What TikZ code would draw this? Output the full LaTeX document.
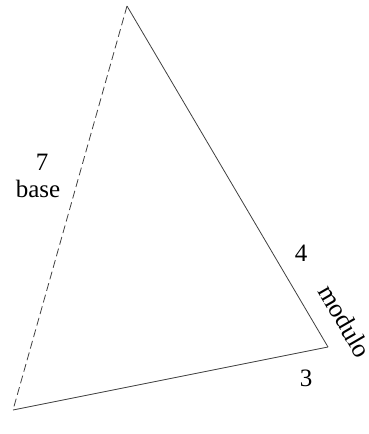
\documentclass[tikz,border=0pt]{standalone}
\usepackage{fontspec}
\setmainfont{Liberation Serif}
\begin{document}
\begin{tikzpicture}[x=1pt,y=1pt,
  edge/.style={draw=black!75,line width=0.8pt},
  dashedge/.style={edge,dash pattern=on 8pt off 4pt},
  lbl/.style={font=\fontsize{25}{30}\selectfont,inner sep=0pt}]
\useasboundingbox (0,0) rectangle (368,-434);
\coordinate (T) at (127,-6);
\coordinate (L) at (13,-410);
\coordinate (R) at (328,-347);
\draw[dashedge] (T) -- (L);
\draw[edge] (L) -- (R);
\draw[edge] (R) -- (T);
\node[lbl,anchor=base] (seven) at (42,-170) {7};
\node[lbl,anchor=base] (base) at (38,-197) {base};
\node[lbl,anchor=base] (four) at (301,-261) {4};
\node[lbl,anchor=base] (three) at (306,-386) {3};
\node[lbl,rotate=-60,font=\fontsize{26}{30}\selectfont] (modulo) at (345,-321) {modulo};
\end{tikzpicture}
\end{document}
